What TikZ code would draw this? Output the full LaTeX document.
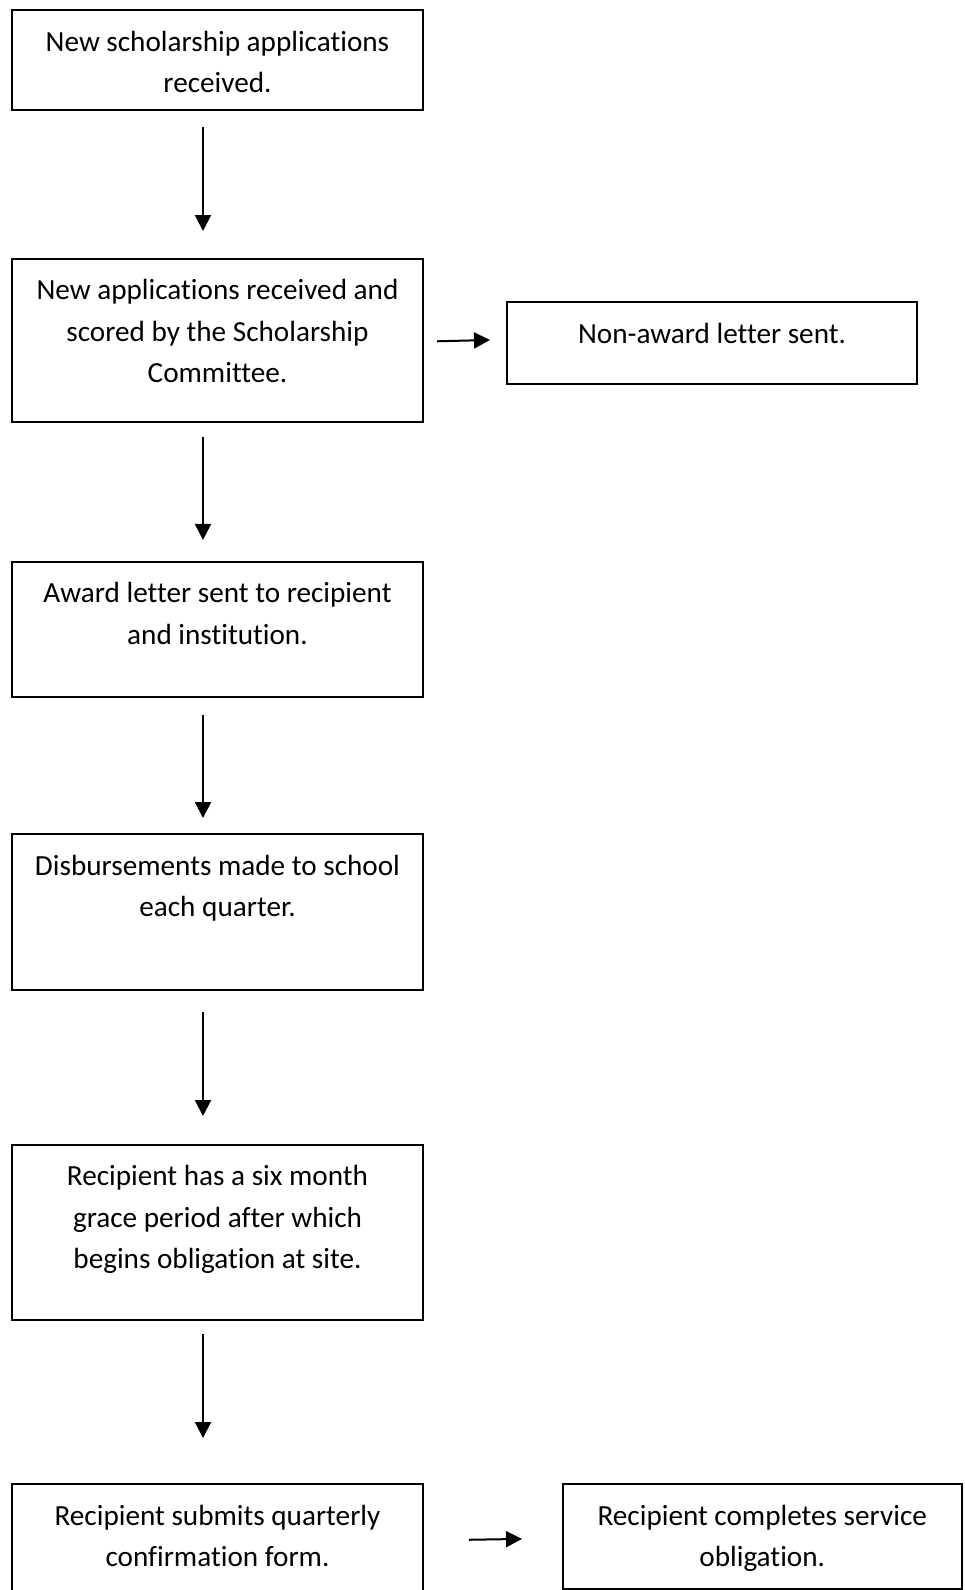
\documentclass[tikz,border=0pt]{standalone}
\usepackage{fontspec}
\setmainfont{Carlito}[Ligatures={NoCommon}]
\usetikzlibrary{arrows.meta}

\newcommand{\boxtxt}[3]{\parbox[c][#2][t]{#1}{\centering\fontsize{29.2pt}{41.6pt}\selectfont\rule{0pt}{41pt}#3}}

\begin{document}
\begin{tikzpicture}[x=1pt, y=-1pt,
    flowbox/.style={draw, line width=2pt, inner sep=0pt, anchor=north west},
    flowarrow/.style={line width=2pt, -{Triangle[length=16pt,width=16pt]}}]

  \useasboundingbox (0,0) rectangle (965,1590);

  \node[flowbox] (recv) at (11,9) {\boxtxt{411pt}{99.5pt}{New scholarship applications\\received.}};
  \node[flowbox] (scored) at (11,257.5) {\boxtxt{411pt}{163pt}{New applications received and\\scored by the Scholarship\\Committee.}};
  \node[flowbox] (nonaward) at (506,301) {\boxtxt{410pt}{82pt}{Non-award letter sent.}};
  \node[flowbox] (awardltr) at (11,560.5) {\boxtxt{411pt}{135pt}{Award letter sent to recipient\\and institution.}};
  \node[flowbox] (disburse) at (11,833) {\boxtxt{411pt}{156pt}{Disbursements made to school\\each quarter.}};
  \node[flowbox] (grace) at (11,1143.5) {\boxtxt{411pt}{175.5pt}{Recipient has a six month\\grace period after which\\begins obligation at site.}};
  \node[flowbox] (confirm) at (11,1483) {\boxtxt{411pt}{109pt}{Recipient submits quarterly\\confirmation form.}};
  \node[flowbox] (complete) at (561.5,1483) {\boxtxt{399.5pt}{104.5pt}{Recipient completes service\\obligation.}};

  \draw[flowarrow, shorten <=16.5pt, shorten >=26.5pt] ([xshift=-14.5pt]recv.south) -- ([xshift=-14.5pt]scored.north);
  \draw[flowarrow, shorten <=14.3pt, shorten >=20.6pt] ([xshift=-14.5pt]scored.south) -- ([xshift=-14.5pt]awardltr.north);
  \draw[flowarrow, shorten <=17pt, shorten >=15pt] ([xshift=-14.5pt]awardltr.south) -- ([xshift=-14.5pt]disburse.north);
  \draw[flowarrow, shorten <=20.6pt, shorten >=27.5pt] ([xshift=-14.5pt]disburse.south) -- ([xshift=-14.5pt]grace.north);
  \draw[flowarrow, shorten <=13pt, shorten >=45pt] ([xshift=-14.5pt]grace.south) -- ([xshift=-14.5pt]confirm.north);

  \draw[flowarrow, shorten <=13pt, shorten >=16pt] ([yshift=-1.6pt]scored.east) -- ([yshift=3.4pt]nonaward.west);
  \draw[flowarrow, shorten <=45pt, shorten >=39.5pt] ([yshift=-2pt]confirm.east) -- ([yshift=-2pt]complete.west);

\end{tikzpicture}
\end{document}
